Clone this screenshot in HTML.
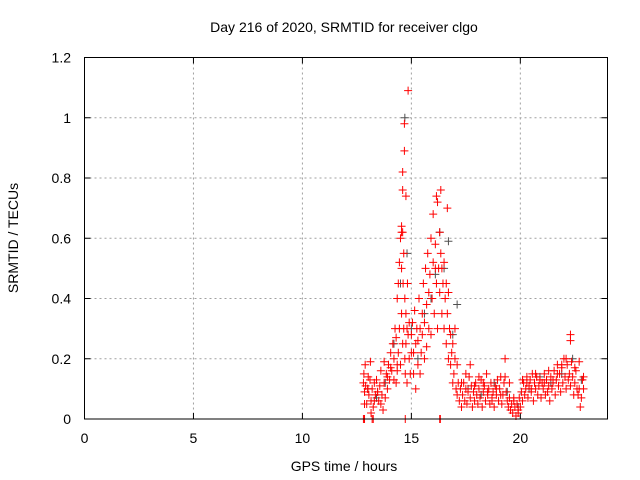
<!DOCTYPE html>
<html><head><meta charset="utf-8"><style>
body{margin:0;background:#fff}
svg{display:block;font-family:"Liberation Sans",sans-serif}
</style></head><body>
<svg id="chart" width="640" height="480">
<text x="344" y="32" font-size="14" text-anchor="middle">Day 216 of 2020, SRMTID for receiver clgo</text>
<text x="344" y="471" font-size="14" text-anchor="middle">GPS time / hours</text>
<text x="18" y="238" font-size="14" text-anchor="middle" transform="rotate(-90 18 238)">SRMTID / TECUs</text>
<g id="grid"></g><g id="ticks"></g><g id="marks"></g>
<rect x="84.5" y="57.5" width="523" height="361.5" fill="none" stroke="#000" stroke-width="1"/>
</svg>
<script>
const xTicks=[0,5,10,15,20];
const yTicks=[0,0.2,0.4,0.6,0.8,1,1.2];
const yTickLabels=["0","0.2","0.4","0.6","0.8","1","1.2"];
// red series: [hour, value]
const redPoints=[
[12.8,0.12],[12.82,0.15],[12.85,0.09],[12.88,0.18],[12.9,0.11],[12.95,0.05],[13.0,0.1],[13.02,0.14],[13.05,0.08],[13.1,0.13],[13.12,0.19],[13.15,0.06],[13.2,0.1],[13.25,0.04],[13.3,0.12],[13.35,0.08],[13.4,0.13],[13.45,0.09],[13.5,0.06],[13.55,0.11],[13.6,0.05],[13.65,0.08],[13.7,0.03],[13.75,0.12],[13.8,0.07],[13.85,0.15],[13.9,0.1],[13.95,0.18],[14.0,0.13],[14.05,0.22],[14.1,0.16],[14.15,0.25],[14.2,0.2],[14.25,0.3],[14.3,0.27],[14.3,0.12],[14.35,0.4],[14.35,0.18],[14.4,0.45],[14.4,0.22],[14.45,0.52],[14.45,0.3],[14.5,0.6],[14.5,0.18],[14.55,0.5],[14.55,0.35],[14.55,0.64],[14.6,0.62],[14.6,0.25],[14.62,0.45],[14.65,0.3],[14.65,0.55],[14.7,0.2],[14.7,0.4],[14.72,0.15],[14.75,0.35],[14.75,0.25],[14.8,0.3],[14.8,0.12],[14.82,0.45],[14.85,0.28],[14.9,0.2],[14.9,0.32],[14.95,0.15],[15.0,0.28],[15.0,0.22],[15.05,0.32],[15.1,0.15],[15.1,0.22],[15.15,0.36],[15.2,0.1],[15.2,0.25],[15.25,0.3],[15.3,0.18],[15.3,0.26],[15.35,0.4],[15.4,0.15],[15.4,0.3],[15.45,0.22],[15.5,0.35],[15.5,0.28],[15.55,0.45],[15.6,0.2],[15.6,0.32],[15.65,0.5],[15.7,0.24],[15.7,0.38],[15.75,0.55],[15.8,0.3],[15.8,0.42],[15.85,0.48],[15.9,0.28],[15.9,0.6],[15.95,0.4],[16.0,0.52],[16.0,0.68],[16.05,0.35],[16.1,0.5],[16.1,0.58],[16.15,0.45],[16.15,0.74],[16.2,0.3],[16.2,0.72],[16.25,0.5],[16.3,0.62],[16.3,0.42],[16.35,0.55],[16.35,0.76],[16.4,0.35],[16.4,0.5],[16.45,0.45],[16.5,0.3],[16.5,0.52],[16.55,0.4],[16.6,0.25],[16.6,0.45],[16.65,0.35],[16.65,0.7],[16.7,0.2],[16.7,0.42],[16.75,0.3],[16.8,0.18],[16.8,0.28],[16.85,0.22],[16.9,0.12],[16.9,0.25],[16.95,0.15],[17.0,0.3],[17.0,0.2],[17.05,0.1],[17.1,0.18],[17.1,0.08],[17.15,0.12],[17.2,0.06],[17.25,0.1],[17.3,0.04],[17.35,0.08],[17.4,0.12],[17.45,0.06],[17.5,0.1],[17.55,0.05],[17.6,0.09],[17.65,0.14],[17.7,0.07],[17.75,0.11],[17.8,0.04],[17.85,0.09],[17.9,0.06],[17.95,0.12],[18.0,0.08],[18.05,0.05],[18.1,0.1],[18.15,0.07],[18.2,0.13],[18.25,0.04],[18.3,0.09],[18.35,0.11],[18.4,0.06],[18.45,0.15],[18.5,0.08],[18.55,0.1],[18.6,0.05],[18.65,0.12],[18.7,0.07],[18.75,0.09],[18.8,0.04],[18.85,0.11],[18.9,0.08],[18.95,0.13],[19.0,0.06],[19.05,0.1],[19.1,0.14],[19.15,0.05],[19.2,0.08],[19.25,0.12],[19.3,0.2],[19.35,0.09],[19.4,0.06],[19.45,0.04],[19.5,0.07],[19.55,0.03],[19.6,0.05],[19.65,0.02],[19.7,0.06],[19.75,0.04],[19.8,0.01],[19.85,0.05],[19.9,0.03],[19.95,0.07],[20.0,0.04],[20.05,0.09],[20.1,0.06],[20.15,0.12],[20.2,0.08],[20.25,0.1],[20.3,0.14],[20.35,0.07],[20.4,0.11],[20.45,0.13],[20.5,0.09],[20.55,0.15],[20.6,0.06],[20.65,0.12],[20.7,0.1],[20.75,0.14],[20.8,0.08],[20.85,0.11],[20.9,0.13],[20.95,0.07],[21.0,0.12],[21.05,0.1],[21.1,0.15],[21.15,0.08],[21.2,0.13],[21.25,0.09],[21.3,0.11],[21.35,0.06],[21.4,0.14],[21.45,0.1],[21.5,0.12],[21.55,0.16],[21.6,0.08],[21.65,0.13],[21.7,0.18],[21.75,0.11],[21.8,0.15],[21.85,0.09],[21.9,0.17],[21.95,0.12],[22.0,0.2],[22.05,0.14],[22.1,0.1],[22.15,0.18],[22.2,0.13],[22.25,0.15],[22.3,0.11],[22.35,0.19],[22.4,0.14],[22.45,0.08],[22.5,0.12],[22.55,0.16],[22.6,0.1],[22.65,0.08],[22.7,0.1],[22.75,0.04],[22.8,0.07],[22.85,0.13],[22.9,0.1],
[12.85,0.05],[13.0,0.1],[13.15,0.02],[13.3,0.06],[13.45,0.09],[13.6,0.16],[13.75,0.19],[13.9,0.14],[14.05,0.17],[14.2,0.13],[14.35,0.16],
[17.3,0.12],[17.5,0.15],[17.7,0.18],[17.9,0.11],[18.1,0.14],[18.3,0.12],[18.5,0.09],[18.7,0.06],[18.9,0.1],[19.1,0.08],[19.3,0.14],[19.5,0.12],[19.7,0.07],[19.9,0.02],[20.1,0.13],[20.3,0.12],[20.5,0.1],[20.7,0.15],[20.9,0.13],[21.1,0.12],[21.3,0.16],[21.5,0.13],[21.7,0.15],[21.9,0.18],[22.1,0.2],[22.3,0.28],[22.3,0.26],[22.5,0.17],[22.7,0.19],[22.9,0.14],
[14.6,0.82],[14.68,0.98],[14.68,0.89],[14.6,0.76],[14.75,0.74],[14.85,1.09],[14.55,0.62],
[12.8,0],[12.85,0],[13.2,0],[13.25,0],[14.72,0],[16.3,0],[16.33,0]
];
// gray series: [hour, value]
const grayPoints=[[13.0,0.1],[13.4,0.07],[13.8,0.12],[14.2,0.25],[14.5,0.45],[14.7,1.0],[14.8,0.55],[15.0,0.3],[15.3,0.2],[15.6,0.35],[15.9,0.4],[16.1,0.48],[16.3,0.62],[16.5,0.5],[16.7,0.59],[16.9,0.28],[17.1,0.38],[17.6,0.1],[18.2,0.08],[18.8,0.12],[19.4,0.09],[19.9,0.04],[20.4,0.1],[20.9,0.14],[21.4,0.12],[21.9,0.15],[22.4,0.2],[22.8,0.13]];

const NS="http://www.w3.org/2000/svg";
const X0=84.5,X1=607.5,Y0=419,Y1=57.5;
function xs(h){return X0+h/24*(X1-X0);}
function ys(v){return Y0-v/1.2*(Y0-Y1);}
const grid=document.getElementById('grid'),ticks=document.getElementById('ticks'),marks=document.getElementById('marks');
function mk(tag,attrs,parent){const e=document.createElementNS(NS,tag);for(const k in attrs)e.setAttribute(k,attrs[k]);parent.appendChild(e);return e;}
xTicks.forEach(t=>{
  const x=xs(t);
  if(t>0){const g=mk('line',{x1:x,x2:x,y1:Y1,y2:Y0,stroke:'#a0a0a0','stroke-dasharray':'2,3'},grid);
  
  }
  mk('line',{x1:x,x2:x,y1:Y0,y2:Y0-6,stroke:'#000'},ticks);
  mk('line',{x1:x,x2:x,y1:Y1,y2:Y1+6,stroke:'#000'},ticks);
  const l=mk('text',{x:x,y:443,'font-size':14,'text-anchor':'middle'},ticks);l.textContent=t;
  
  
});
yTicks.forEach((t,i)=>{
  const y=ys(t);
  if(t>0&&t<1.2){const g=mk('line',{x1:X0,x2:X1,y1:y,y2:y,stroke:'#a0a0a0','stroke-dasharray':'2,3'},grid);
  
  }
  mk('line',{x1:X0,x2:X0+6,y1:y,y2:y,stroke:'#000'},ticks);
  mk('line',{x1:X1,x2:X1-6,y1:y,y2:y,stroke:'#000'},ticks);
  const l=mk('text',{x:71,y:y+5,'font-size':14,'text-anchor':'end'},ticks);l.textContent=yTickLabels[i];
  
  
});
function plus(h,v,c,name){
  const x=xs(h),y=ys(v);
  const p=mk('path',{d:`M${x-4},${y}H${x+4}M${x},${y-4}V${y+4}`,stroke:c,'stroke-width':1,fill:'none'},marks);
  
  
}
grayPoints.forEach(p=>plus(p[0],p[1],'#505050','gray-point'));
redPoints.forEach(p=>plus(p[0],p[1],'#ff0000','red-point'));
</script>
</body></html>
